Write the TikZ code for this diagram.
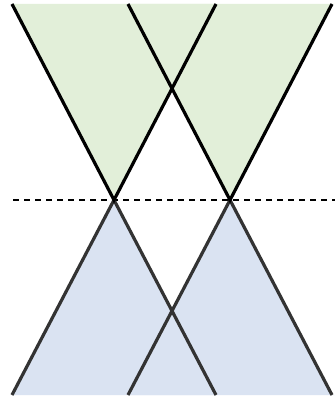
\documentclass[tikz,border=0pt]{standalone}
\usetikzlibrary{calc}
\definecolor{futuregreen}{HTML}{E2EFD9}
\definecolor{pastblue}{HTML}{DAE3F2}
\begin{document}
\begin{tikzpicture}[x=1pt,y=-1pt,
  future/.style={fill=futuregreen},
  past/.style={fill=pastblue},
  upedge/.style={line width=3.2pt, black},
  downedge/.style={line width=3.2pt, black!80},
  now/.style={line width=2.4pt, dash pattern=on 6pt off 5pt}
]
\useasboundingbox (0,0) rectangle (335,398);
% apexes of the two cones
\coordinate (apexL) at (114,200);
\coordinate (apexR) at (230,200);
% cone rims
\coordinate (tLl) at (12,4);   \coordinate (tLr) at (216,4);
\coordinate (tRl) at (128,4);  \coordinate (tRr) at (332,4);
\coordinate (bLl) at (12,395); \coordinate (bLr) at (216,395);
\coordinate (bRl) at (128,395);\coordinate (bRr) at (332,395);

% fills
\fill[future] (tLl) -- (apexL) -- (tLr) -- cycle;
\fill[future] (tRl) -- (apexR) -- (tRr) -- (335,4) -- cycle;
\fill[past] (bLl) -- (apexL) -- (bLr) -- cycle;
\fill[past] (bRl) -- (apexR) -- (bRr) -- (335,395) -- cycle;

% now line
\draw[now] (13,200) -- (335,200);

% cone edges
\draw[downedge] (bLl) -- (apexL) -- (bLr);
\draw[downedge] (bRl) -- (apexR) -- (bRr);
\draw[upedge] (tLl) -- (apexL) -- (tLr);
\draw[upedge] (tRl) -- (apexR) -- (tRr);
\end{tikzpicture}
\end{document}
